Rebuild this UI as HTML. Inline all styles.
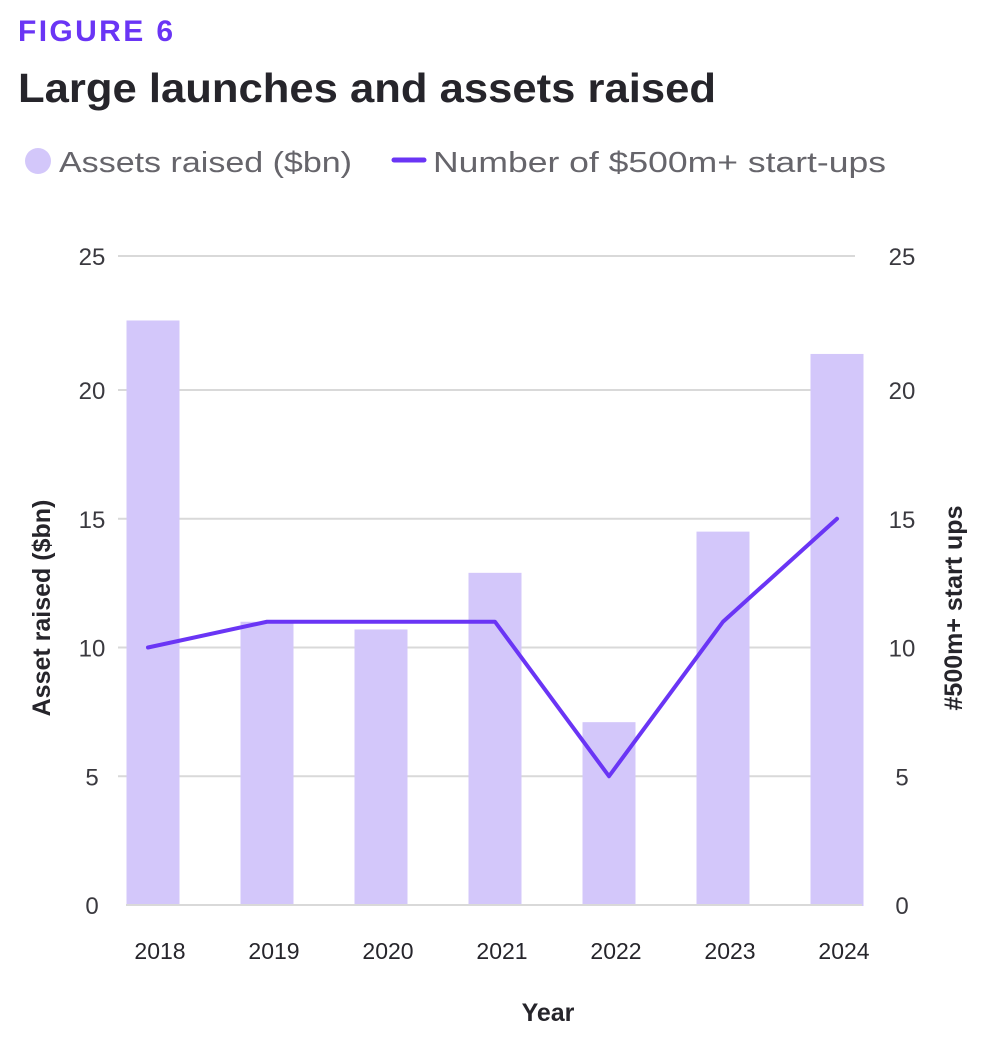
<!DOCTYPE html>
<html><head><meta charset="utf-8"><style>
body{margin:0;background:#fff;width:1000px;height:1046px;overflow:hidden;font-family:"Liberation Sans",sans-serif}
</style></head><body>
<svg width="1000" height="1046">
<text x="18" y="41" font-size="30" font-weight="bold" fill="#6a35f5" textLength="155" lengthAdjust="spacing">FIGURE 6</text>
<text x="18" y="102" font-size="41" font-weight="bold" fill="#26252b" textLength="698" lengthAdjust="spacingAndGlyphs">Large launches and assets raised</text>
<g>
<circle cx="38" cy="161" r="13" fill="#d3c7fa"/>
<text x="59" y="172" font-size="29" fill="#66656b" textLength="293" lengthAdjust="spacingAndGlyphs">Assets raised ($bn)</text>
<line x1="394" y1="160" x2="424" y2="160" stroke="#6a35f5" stroke-width="5" stroke-linecap="round"/>
<text x="433" y="172" font-size="29" fill="#66656b" textLength="453" lengthAdjust="spacingAndGlyphs">Number of $500m+ start-ups</text>
</g>
<g id="plot"></g>
<text transform="translate(50,608) rotate(-90)" text-anchor="middle" font-size="25" font-weight="bold" fill="#26252b">Asset raised ($bn)</text>
<text transform="translate(962,608) rotate(-90)" text-anchor="middle" font-size="25" font-weight="bold" fill="#26252b">#500m+ start ups</text>
<text x="548" y="1021" text-anchor="middle" font-size="25" font-weight="bold" fill="#26252b">Year</text>
</svg>
<script>
const years=["2018","2019","2020","2021","2022","2023","2024"];
const assets=[22.7,11.0,10.7,12.9,7.1,14.5,21.4];
const startups=[10,11,11,11,5,11,15];
const ticks=[0,5,10,15,20,25];
const NS="http://www.w3.org/2000/svg";
const g=document.getElementById("plot");
const y0=905,unit=25.75;
function yS(v){return y0-v*unit;}
function xS(i){return 153+i*114;}
function mk(t,a,p){const e=document.createElementNS(NS,t);for(const k in a)e.setAttribute(k,a[k]);(p||g).appendChild(e);return e;}
ticks.forEach(t=>{
 const y=t==25?256:yS(t);
 if(t>0){const l=mk("line",{x1:118,x2:855,y1:y,y2:y,stroke:"#d9d9d9","stroke-width":2});
 
 }
 const a=mk("text",{x:92,y:y+9,"text-anchor":"middle","font-size":24,fill:"#3a393f"});a.textContent=t;
 
 
 const b=mk("text",{x:902,y:y+9,"text-anchor":"middle","font-size":24,fill:"#3a393f"});b.textContent=t;
 
 
});
assets.forEach((v,i)=>{
 const r=mk("rect",{x:xS(i)-26.5,y:yS(v),width:53,height:y0-yS(v)+1,fill:"#d3c7fa"});
 
 
 const t=mk("text",{x:xS(i)+7,y:959,"text-anchor":"middle","font-size":23,fill:"#26252b"});t.textContent=years[i];
 
 
});
const base=mk("line",{x1:126,x2:862,y1:y0,y2:y0,stroke:"#d9d9d9","stroke-width":2});


const pts=startups.map((v,i)=>(xS(i)-(i==0?5:0))+","+yS(v)).join(" ");
const pl=mk("polyline",{points:pts,fill:"none",stroke:"#6a35f5","stroke-width":4,"stroke-linejoin":"round","stroke-linecap":"round"});


</script>
</body></html>
